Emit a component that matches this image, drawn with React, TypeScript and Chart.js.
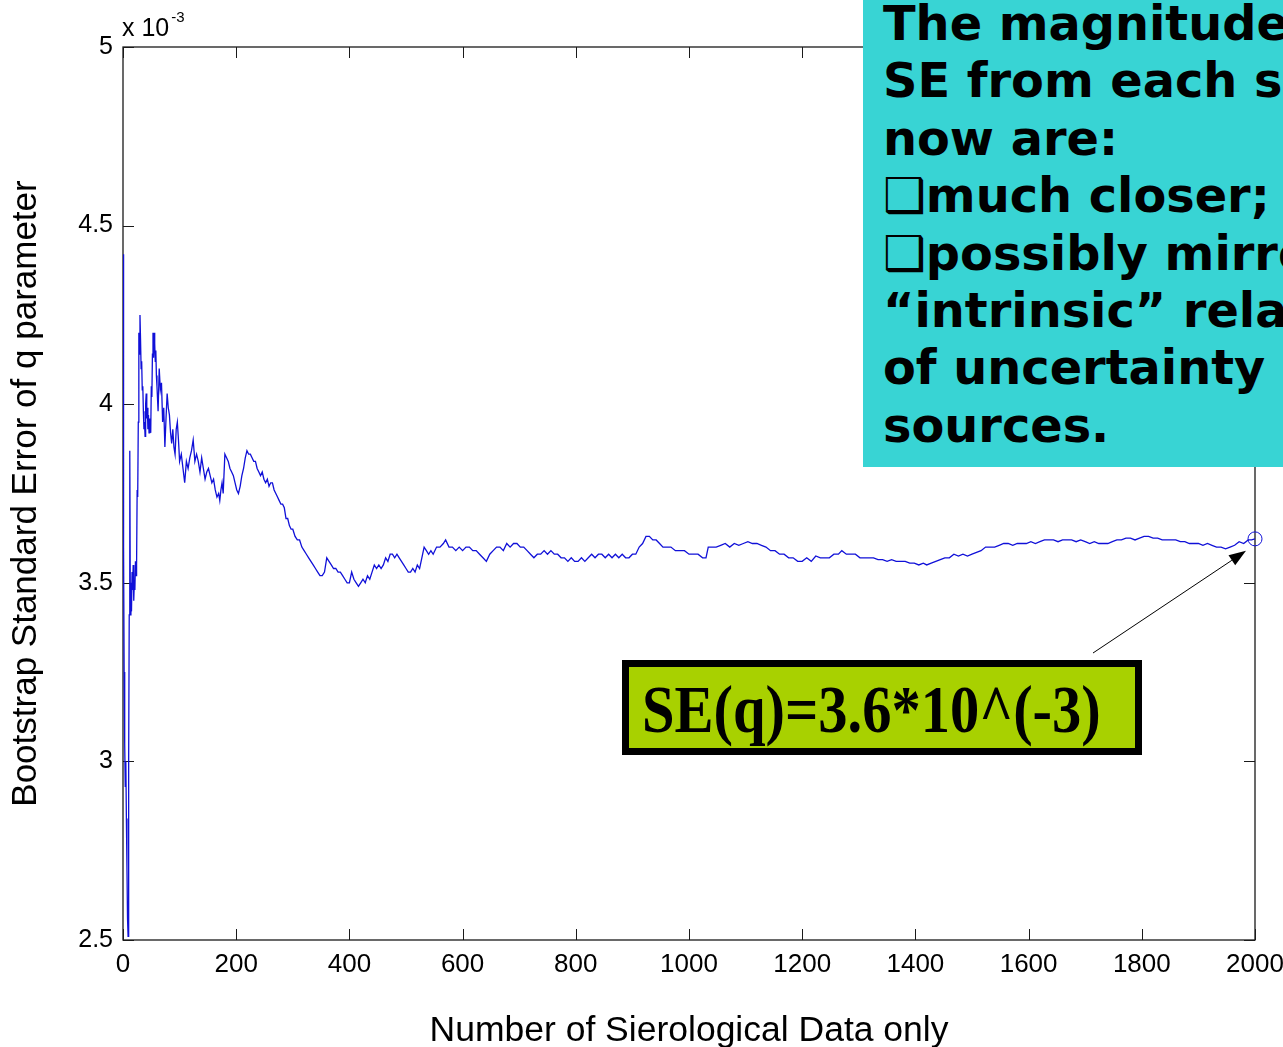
import { useEffect, useRef } from "react";
import { Chart, registerables } from "chart.js";

Chart.register(...registerables);

// Bootstrap standard error of q (in units of 1e-3) against the number of
// serological records included. Each trace segment is [records, SE].
const earlyTrace: [number, number][] = [
  [0, 4.42], [1, 3.6], [2, 3.25], [3, 3.05], [4, 2.93], [5, 3.0], [6, 2.84],
  [7, 2.7], [8, 2.56], [9, 2.51], [10, 3.0], [11, 3.41], [12, 3.87], [13, 3.41],
  [14, 3.5], [15, 3.42], [16, 3.53], [17, 3.48], [18, 3.55], [19, 3.45],
  [20, 3.5], [21, 3.48], [22, 3.56], [23, 3.52], [24, 3.55], [25, 3.76],
  [26, 3.74], [27, 3.95], [28, 4.2], [29, 4.14], [30, 4.25], [31, 4.18],
  [32, 4.1], [33, 4.12], [34, 4.04], [35, 4.05], [36, 3.98], [37, 3.93],
  [38, 3.95], [39, 3.91], [40, 4.0], [41, 4.03], [42, 3.96], [43, 3.99],
  [44, 3.93], [45, 3.97], [46, 3.92], [47, 3.96], [48, 3.93], [49, 3.92],
  [50, 4.05], [51, 4.02], [52, 4.14], [53, 4.2], [54, 4.13], [55, 4.2],
  [56, 4.17], [57, 4.12], [58, 4.15], [59, 4.08],
];

const settlingTrace: [number, number][] = [
  [60, 4.05], [62, 3.98], [64, 4.1], [66, 4.04], [68, 4.06], [70, 3.95],
  [72, 3.99], [74, 3.88], [76, 3.96], [78, 4.03], [80, 3.99], [82, 3.97],
  [84, 3.92], [86, 3.89], [88, 3.93], [90, 3.88], [92, 3.86], [94, 3.93],
  [96, 3.95], [98, 3.9], [100, 3.84], [103, 3.86], [106, 3.82], [109, 3.78],
  [112, 3.84], [115, 3.82], [118, 3.85], [121, 3.87], [124, 3.9], [127, 3.84],
  [130, 3.86], [133, 3.84], [136, 3.81], [139, 3.85], [142, 3.82], [145, 3.79],
  [148, 3.81], [151, 3.82], [154, 3.8], [157, 3.78], [160, 3.79], [163, 3.76],
  [166, 3.74], [169, 3.75], [171, 3.73], [173, 3.76], [175, 3.78], [177, 3.75],
  [180, 3.86], [183, 3.85], [186, 3.84], [189, 3.82], [192, 3.81], [195, 3.8],
  [198, 3.78], [201, 3.76], [204, 3.75], [207, 3.77], [210, 3.8], [213, 3.82],
  [216, 3.85], [219, 3.87], [222, 3.86], [225, 3.86], [228, 3.85], [231, 3.84],
  [234, 3.84], [237, 3.82], [240, 3.81], [243, 3.8], [246, 3.81], [249, 3.79],
  [252, 3.78], [255, 3.79], [258, 3.77], [261, 3.78], [264, 3.78], [267, 3.76],
  [270, 3.75], [273, 3.74], [276, 3.73], [279, 3.72], [282, 3.72], [285, 3.71],
  [288, 3.68], [291, 3.68], [294, 3.66], [297, 3.65], [300, 3.65], [304, 3.63],
  [308, 3.62], [312, 3.62], [316, 3.6], [320, 3.59], [324, 3.58], [328, 3.57],
  [332, 3.56], [336, 3.55], [340, 3.54], [344, 3.53], [348, 3.52], [352, 3.52],
  [356, 3.53], [360, 3.57], [364, 3.56], [368, 3.55], [372, 3.54], [376, 3.54],
  [380, 3.53], [384, 3.53], [388, 3.52], [392, 3.51], [396, 3.5], [400, 3.5],
  [404, 3.53], [408, 3.51], [412, 3.5], [416, 3.49], [420, 3.5],
];

const plateauTrace: [number, number][] = [
  [424, 3.51], [428, 3.5], [432, 3.52], [436, 3.51], [440, 3.53], [444, 3.55],
  [448, 3.54], [452, 3.55], [456, 3.54], [460, 3.55], [464, 3.57], [468, 3.56],
  [472, 3.58], [476, 3.58], [480, 3.57], [484, 3.58], [488, 3.57], [492, 3.56],
  [496, 3.55], [500, 3.54], [504, 3.53], [508, 3.53], [512, 3.54], [516, 3.53],
  [520, 3.55], [524, 3.54], [528, 3.57], [532, 3.6], [536, 3.59], [540, 3.58],
  [544, 3.59], [548, 3.58], [554, 3.6], [560, 3.6], [566, 3.61], [570, 3.62],
  [576, 3.6], [582, 3.6], [588, 3.59], [594, 3.6], [600, 3.59], [606, 3.6],
  [612, 3.6], [618, 3.59], [624, 3.59], [630, 3.58], [636, 3.57], [642, 3.56],
  [648, 3.58], [654, 3.59], [660, 3.6], [666, 3.6], [672, 3.59], [678, 3.61],
  [684, 3.6], [690, 3.61], [696, 3.61], [702, 3.6], [708, 3.6], [714, 3.59],
  [720, 3.58], [726, 3.57], [732, 3.58], [738, 3.58], [744, 3.59], [750, 3.58],
  [756, 3.59], [762, 3.58], [768, 3.58], [774, 3.57], [780, 3.57], [786, 3.56],
  [792, 3.57], [798, 3.56], [804, 3.56], [810, 3.57], [816, 3.56], [822, 3.57],
  [828, 3.58], [834, 3.57], [840, 3.58], [846, 3.58], [852, 3.57], [858, 3.58],
  [864, 3.57], [870, 3.58], [876, 3.57], [882, 3.58], [888, 3.57], [894, 3.57],
  [900, 3.58], [906, 3.58], [912, 3.6], [918, 3.61], [924, 3.63], [930, 3.63],
];

const tailTrace: [number, number][] = [
  [936, 3.62], [942, 3.62], [948, 3.61], [954, 3.6], [960, 3.6], [968, 3.6],
  [976, 3.59], [984, 3.59], [992, 3.59], [1000, 3.58], [1008, 3.58],
  [1016, 3.58], [1024, 3.57], [1030, 3.57], [1034, 3.6], [1040, 3.6],
  [1048, 3.6], [1056, 3.605], [1064, 3.61], [1072, 3.6], [1080, 3.61],
  [1088, 3.605], [1096, 3.61], [1104, 3.615], [1112, 3.61], [1120, 3.61],
  [1128, 3.605], [1136, 3.6], [1144, 3.59], [1152, 3.59], [1160, 3.58],
  [1168, 3.58], [1176, 3.57], [1184, 3.57], [1192, 3.56], [1200, 3.56],
  [1208, 3.57], [1216, 3.56], [1224, 3.575], [1232, 3.57], [1240, 3.57],
  [1248, 3.57], [1256, 3.58], [1264, 3.58], [1270, 3.59], [1278, 3.58],
  [1286, 3.58], [1294, 3.58], [1302, 3.57], [1310, 3.57], [1318, 3.57],
  [1326, 3.57], [1334, 3.565], [1342, 3.565], [1350, 3.56], [1358, 3.565],
  [1366, 3.56], [1374, 3.56], [1382, 3.56], [1390, 3.555], [1398, 3.555],
  [1406, 3.55], [1414, 3.555], [1420, 3.55], [1428, 3.555], [1436, 3.56],
  [1444, 3.565], [1452, 3.57], [1460, 3.57], [1468, 3.58], [1476, 3.575],
  [1484, 3.58], [1492, 3.575], [1500, 3.58], [1508, 3.585], [1516, 3.59],
  [1524, 3.6], [1532, 3.6], [1540, 3.6], [1548, 3.605], [1556, 3.61],
  [1564, 3.61], [1572, 3.605], [1580, 3.61], [1588, 3.61], [1596, 3.61],
  [1604, 3.615], [1612, 3.61], [1620, 3.615], [1628, 3.62], [1636, 3.62],
  [1644, 3.62], [1652, 3.615], [1660, 3.62], [1668, 3.62], [1676, 3.62],
  [1684, 3.615], [1692, 3.62], [1700, 3.615], [1708, 3.61], [1716, 3.615],
  [1724, 3.61], [1732, 3.61], [1740, 3.61], [1748, 3.615], [1756, 3.62],
  [1764, 3.62], [1772, 3.625], [1780, 3.625], [1788, 3.62], [1796, 3.625],
  [1804, 3.63], [1812, 3.63], [1820, 3.625], [1828, 3.625], [1836, 3.62],
  [1844, 3.62], [1852, 3.62], [1860, 3.62], [1868, 3.615], [1876, 3.615],
  [1884, 3.61], [1892, 3.61], [1900, 3.61], [1908, 3.605], [1916, 3.61],
  [1924, 3.605], [1932, 3.6], [1940, 3.6], [1948, 3.595], [1956, 3.6],
  [1964, 3.605], [1972, 3.615], [1980, 3.61], [1988, 3.62], [1994, 3.62],
  [2000, 3.623],
];

const finalEstimate: [number, number] = [2000, 3.623];

const xTicks = [0, 200, 400, 600, 800, 1000, 1200, 1400, 1600, 1800, 2000];
const yTicks = [2.5, 3, 3.5, 4, 4.5, 5];

const xTitle = "Number of Sierological Data only";
const yTitle = "Bootstrap Standard Error of q parameter";
const exponentBase = "x 10";
const exponentPower = "-3";

const noteLines = [
  "The magnitudes of",
  "SE from each source",
  "now are:",
  "\u2751much closer;",
  "\u2751possibly mirroring",
  "\u201Cintrinsic\u201D relative",
  "of uncertainty in",
  "sources.",
];
const estimateLabel = "SE(q)=3.6*10^(-3)";

const SANS = "'Liberation Sans', Arial, sans-serif";
const LINE_BLUE = "#1010d8";

// MATLAB-style boxed axes with inward ticks, the exponent tag and the arrow
const framePlugin = {
  id: "frame",
  beforeDatasetsDraw(chart: any) {
    const { ctx, chartArea, scales } = chart;
    const { left, right, top, bottom } = chartArea;
    const x = scales.x;
    const y = scales.y;
    ctx.save();
    ctx.strokeStyle = "#1a1a1a";
    ctx.lineWidth = 1.3;
    ctx.strokeRect(left, top, right - left, bottom - top);
    ctx.lineWidth = 1;
    ctx.beginPath();
    xTicks.forEach((v) => {
      const px = Math.round(x.getPixelForValue(v)) + 0.5;
      ctx.moveTo(px, bottom);
      ctx.lineTo(px, bottom - 11);
      ctx.moveTo(px, top);
      ctx.lineTo(px, top + 11);
    });
    yTicks.forEach((v) => {
      const py = Math.round(y.getPixelForValue(v)) + 0.5;
      ctx.moveTo(left, py);
      ctx.lineTo(left + 11, py);
      ctx.moveTo(right, py);
      ctx.lineTo(right - 11, py);
    });
    ctx.stroke();

    ctx.fillStyle = "#000";
    ctx.textBaseline = "alphabetic";
    ctx.textAlign = "left";
    ctx.font = `25px ${SANS}`;
    ctx.fillText(exponentBase, left - 1, top - 11);
    const w = ctx.measureText(exponentBase).width;
    ctx.font = `15px ${SANS}`;
    ctx.fillText(exponentPower, left - 1 + w + 2, top - 25);
    ctx.restore();
  },
  afterDraw(chart: any) {
    const { ctx, scales } = chart;
    const cx = scales.x.getPixelForValue(finalEstimate[0]);
    const cy = scales.y.getPixelForValue(finalEstimate[1]);
    const tipX = cx - 9;
    const tipY = cy + 12;
    const tailX = 1093;
    const tailY = 653;
    const ang = Math.atan2(tipY - tailY, tipX - tailX);
    const headLen = 17;
    const headHalf = 6;
    const bx = tipX - headLen * Math.cos(ang);
    const by = tipY - headLen * Math.sin(ang);
    ctx.save();
    ctx.strokeStyle = "#000";
    ctx.fillStyle = "#000";
    ctx.lineWidth = 1;
    ctx.beginPath();
    ctx.moveTo(tailX, tailY);
    ctx.lineTo(bx, by);
    ctx.stroke();
    ctx.beginPath();
    ctx.moveTo(tipX, tipY);
    ctx.lineTo(bx + headHalf * Math.sin(ang), by - headHalf * Math.cos(ang));
    ctx.lineTo(bx - headHalf * Math.sin(ang), by + headHalf * Math.cos(ang));
    ctx.closePath();
    ctx.fill();
    ctx.restore();
  },
};

export default function App() {
  const canvasRef = useRef<HTMLCanvasElement | null>(null);

  useEffect(() => {
    const canvas = canvasRef.current;
    if (!canvas) return;
    const trace = [...earlyTrace, ...settlingTrace, ...plateauTrace, ...tailTrace];
    const chart = new Chart(canvas, {
      type: "line",
      data: {
        datasets: [
          {
            data: trace.map(([n, se]) => ({ x: n, y: se })),
            borderColor: LINE_BLUE,
            borderWidth: 1.3,
            pointRadius: 0,
            tension: 0,
            fill: false,
          },
          {
            data: [{ x: finalEstimate[0], y: finalEstimate[1] }],
            showLine: false,
            pointRadius: 7,
            pointStyle: "circle",
            pointBorderColor: LINE_BLUE,
            pointBackgroundColor: "rgba(0,0,0,0)",
            pointBorderWidth: 1,
            clip: false,
          } as any,
        ],
      },
      options: {
        responsive: false,
        animation: false,
        events: [],
        layout: { padding: { top: 47, right: 28, left: 0, bottom: 0 } },
        plugins: {
          legend: { display: false },
          tooltip: { enabled: false },
        },
        scales: {
          x: {
            type: "linear",
            min: 0,
            max: 2000,
            afterBuildTicks: (s: any) => {
              s.ticks = xTicks.map((v) => ({ value: v }));
            },
            afterFit: (s: any) => {
              s.height = 107;
              s.paddingLeft = 0;
              s.paddingRight = 0;
            },
            grid: { display: false, drawTicks: false },
            border: { display: false },
            ticks: {
              padding: 9,
              maxRotation: 0,
              autoSkip: false,
              color: "#000",
              font: { family: SANS, size: 26 },
              callback: (v: any) => String(v),
            },
            title: {
              display: true,
              text: xTitle,
              color: "#000",
              font: { family: SANS, size: 35.5, lineHeight: 1 },
              padding: { top: 0, bottom: -2 },
            },
          },
          y: {
            type: "linear",
            min: 2.5,
            max: 5,
            afterBuildTicks: (s: any) => {
              s.ticks = yTicks.map((v) => ({ value: v }));
            },
            afterFit: (s: any) => {
              s.width = 123;
              s.paddingTop = 0;
              s.paddingBottom = 0;
            },
            grid: { display: false, drawTicks: false },
            border: { display: false },
            ticks: {
              padding: 10,
              autoSkip: false,
              color: "#000",
              font: { family: SANS, size: 25 },
              callback: (v: any) => String(v),
            },
            title: {
              display: true,
              text: yTitle,
              color: "#000",
              font: { family: SANS, size: 35, lineHeight: 1 },
              padding: { top: 9, bottom: 0 },
            },
          },
        },
      },
      plugins: [framePlugin],
    });
    return () => chart.destroy();
  }, []);

  return (
    <div
      style={{
        position: "fixed",
        left: 0,
        top: 0,
        width: 1283,
        height: 1047,
        overflow: "hidden",
        background: "#fff",
      }}
    >
      <canvas
        ref={canvasRef}
        width={1283}
        height={1047}
        style={{ position: "absolute", left: 0, top: 0, width: 1283, height: 1047 }}
      />
      <div
        style={{
          position: "absolute",
          left: 863,
          top: 0,
          width: 520,
          height: 467,
          background: "#38d4d4",
          overflow: "hidden",
        }}
      >
        <div
          style={{
            position: "absolute",
            left: 20,
            top: -5,
            fontFamily: "'DejaVu Sans', Verdana, sans-serif",
            fontWeight: "bold",
            fontSize: 47.8,
            lineHeight: "57.4px",
            color: "#000",
            whiteSpace: "nowrap",
          }}
        >
          {noteLines.map((line, i) => (
            <div key={i}>{line}</div>
          ))}
        </div>
      </div>
      <div
        style={{
          position: "absolute",
          left: 622,
          top: 660,
          width: 520,
          height: 95,
          boxSizing: "border-box",
          border: "7px solid #000",
          background: "#a8d100",
        }}
      />
      <div
        style={{
          position: "absolute",
          left: 642,
          top: 675,
          fontFamily: "'Liberation Serif', 'Times New Roman', serif",
          fontWeight: "bold",
          fontSize: 68,
          lineHeight: "68px",
          color: "#000",
          whiteSpace: "nowrap",
          transform: "scaleX(0.86)",
          transformOrigin: "left top",
        }}
      >
        {estimateLabel}
      </div>
    </div>
  );
}
